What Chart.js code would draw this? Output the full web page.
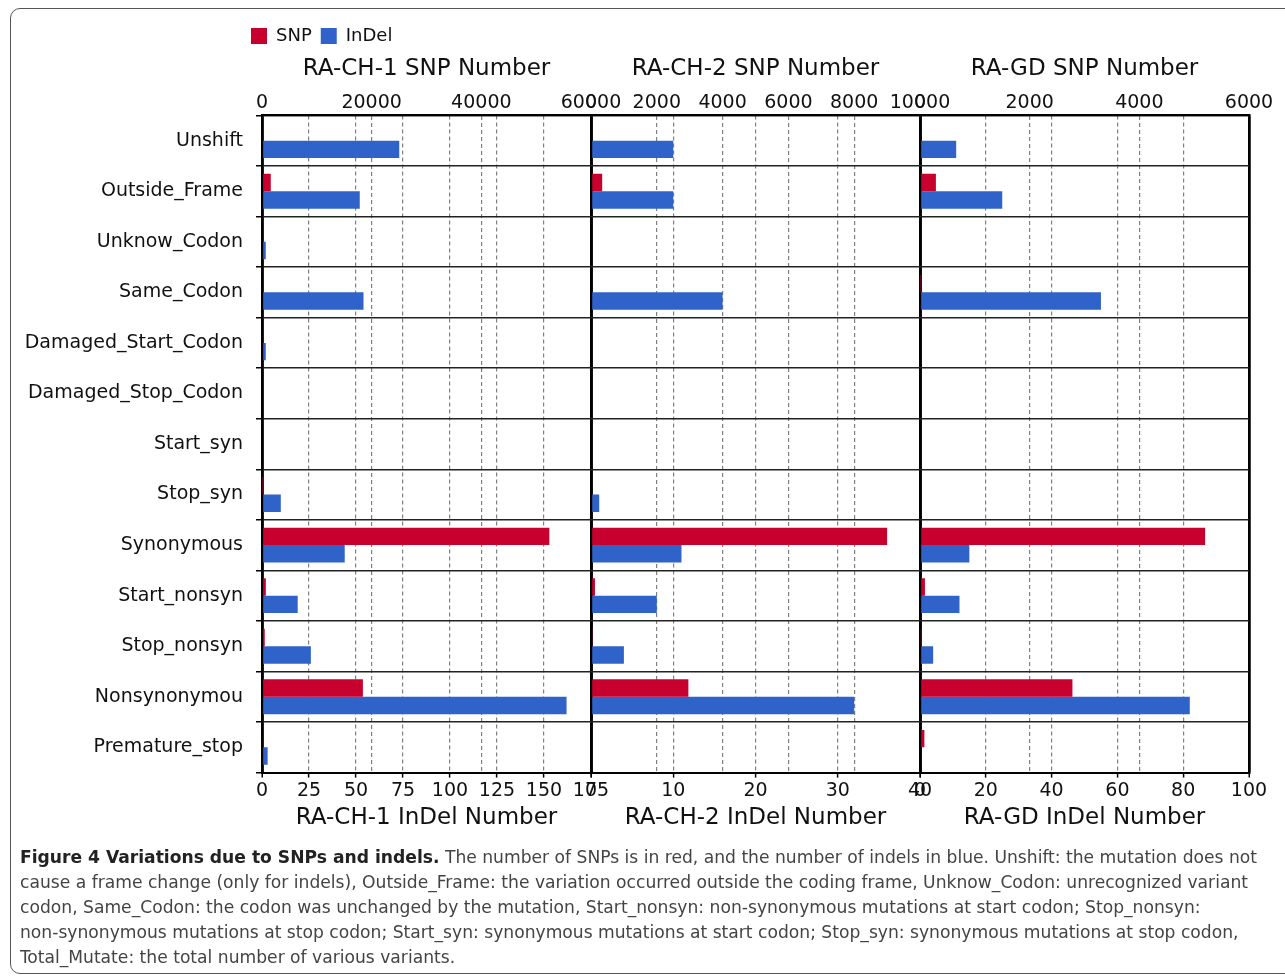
<!DOCTYPE html>
<html>
<head>
<meta charset="utf-8">
<script src="https://cdn.jsdelivr.net/npm/chart.js@4/dist/chart.umd.min.js"></script>
<style>
html, body { margin: 0; padding: 0; background: #fff; overflow: hidden; }
body { width: 1285px; height: 977px; position: relative; }
#frame { position: absolute; left: 10px; top: 8px; width: 1295px; height: 966px; border: 1.5px solid #555; border-radius: 10px; box-sizing: border-box; }
#wrap { position: absolute; left: 0; top: 0; width: 1285px; height: 846px; }
#caption { position: absolute; left: 20px; top: 844px; font-family: "Liberation Sans Narrow", "DejaVu Sans Condensed", sans-serif; font-size: 18.5px; line-height: 25px; color: #444; white-space: nowrap; transform-origin: 0 0; }
#caption b { color: #222; }
</style>
</head>
<body>
<div id="frame"></div>
<div id="wrap"><canvas id="chart"></canvas></div>
<div id="caption">
<div id="cap1"><b>Figure 4 Variations due to SNPs and indels.</b> The number of SNPs is in red, and the number of indels in blue. Unshift: the mutation does not</div>
<div>cause a frame change (only for indels), Outside_Frame: the variation occurred outside the coding frame, Unknow_Codon: unrecognized variant</div>
<div>codon, Same_Codon: the codon was unchanged by the mutation, Start_nonsyn: non-synonymous mutations at start codon; Stop_nonsyn:</div>
<div>non-synonymous mutations at stop codon; Start_syn: synonymous mutations at start codon; Stop_syn: synonymous mutations at stop codon,</div>
<div>Total_Mutate: the total number of various variants.</div>
</div>
<script>
"use strict";

// 変異の種類
const categories = [
    "Unshift", "Outside_Frame", "Unknow_Codon", "Same_Codon",
    "Damaged_Start_Codon", "Damaged_Stop_Codon", "Start_syn", "Stop_syn",
    "Synonymous", "Start_nonsyn", "Stop_nonsyn", "Nonsynonymou", "Premature_stop"
];

// RA-CH-1
const ch1Snp   = [0, 1600, 0, 0, 0, 0, 0, 100, 52400, 700, 500, 18400, 0];
const ch1Indel = [73, 52, 2, 54, 2, 0, 0, 10, 44, 19, 26, 162, 3];
// RA-CH-2
const ch2Snp   = [0, 340, 0, 0, 0, 0, 0, 0, 9000, 120, 30, 2960, 0];
const ch2Indel = [10, 10, 0, 16, 0, 0, 0, 1, 11, 8, 4, 32, 0];
// RA-GD
const gdSnp    = [0, 290, 0, 10, 0, 0, 0, 0, 5200, 90, 15, 2780, 80];
const gdIndel  = [11, 25, 0, 55, 0, 0, 0, 0, 15, 12, 4, 82, 0];

// 軸の目盛り (最大値, 間隔)
const snpMax    = [60000, 10000, 6000];
const snpStep   = [20000, 2000, 2000];
const indelMax  = [175, 40, 100];
const indelStep = [25, 10, 20];
const panelNames = ["RA-CH-1", "RA-CH-2", "RA-GD"];

const SNP_COLOR = "#c8002d";
const INDEL_COLOR = "#3063c9";
const FONT = "'DejaVu Sans', sans-serif";

// x軸 (上: SNP, 下: InDel)
function xAxis(pos, max, step, title) {
    const isEdge = ctx => ctx.tick && (ctx.tick.value === 0 || ctx.tick.value === max);
    const top = pos === "top";
    return {
        type: "linear",
        position: pos,
        stack: pos + "Stack",
        stackWeight: 1,
        min: 0,
        max: max,
        ticks: {
            stepSize: step,
            autoSkip: false,
            maxRotation: 0,
            padding: top ? 0 : 2,
            color: "#111",
            font: { family: FONT, size: 19 },
            callback: v => String(v)
        },
        grid: {
            color: ctx => isEdge(ctx) ? "#000" : "#808080",
            lineWidth: ctx => isEdge(ctx) ? 2.5 : 1.2,
            tickColor: "#000",
            tickWidth: 1.5,
            tickLength: top ? 1 : 5
        },
        border: {
            color: "#000",
            width: 2,
            dash: ctx => (ctx.tick && !isEdge(ctx)) ? [4, 3] : []
        },
        title: {
            display: true,
            text: title,
            color: "#111",
            font: { family: FONT, size: 23 },
            padding: top ? { top: 0, bottom: 9 } : { top: 0, bottom: 2 }
        }
    };
}

const snpData = [ch1Snp, ch2Snp, gdSnp];
const indelData = [ch1Indel, ch2Indel, gdIndel];

const datasets = [];
const scales = {};
for (let i = 0; i < 3; i++) {
    datasets.push({
        label: "SNP", data: snpData[i], xAxisID: "xTop" + i, stack: "snp",
        backgroundColor: SNP_COLOR, borderWidth: 0
    });
    datasets.push({
        label: "InDel", data: indelData[i], xAxisID: "xBot" + i, stack: "indel",
        backgroundColor: INDEL_COLOR, borderWidth: 0
    });
    scales["xBot" + i] = xAxis("bottom", indelMax[i], indelStep[i], panelNames[i] + " InDel Number");
}
// 上の軸は逆順に並ぶので逆から登録
for (let i = 2; i >= 0; i--) {
    scales["xTop" + i] = xAxis("top", snpMax[i], snpStep[i], panelNames[i] + " SNP Number");
}
scales.y = {
    type: "category",
    position: "left",
    offset: true,
    ticks: { color: "#111", font: { family: FONT, size: 19 }, padding: 13 },
    grid: { color: "#222", lineWidth: 1.5, tickColor: "#000", tickLength: 6, offset: true },
    border: { color: "#000", width: 2.5 },
    afterFit: s => { s.width = 262; }
};

// 凡例を少し左へ
const legendShift = {
    id: "legendShift",
    afterLayout(chart) {
        chart.legend.left -= 20;
        chart.legend.right -= 20;
    }
};

new Chart(document.getElementById("chart"), {
    type: "bar",
    data: { labels: categories, datasets: datasets },
    plugins: [legendShift],
    options: {
        indexAxis: "y",
        responsive: true,
        maintainAspectRatio: false,
        animation: false,
        barPercentage: 1,
        categoryPercentage: 0.69,
        layout: { padding: { top: 18, right: 36, bottom: 12, left: 0 } },
        scales: scales,
        plugins: {
            tooltip: { enabled: false },
            legend: {
                position: "top",
                align: "start",
                fullSize: false,
                labels: {
                    boxWidth: 16,
                    boxHeight: 16,
                    padding: 9,
                    color: "#111",
                    font: { family: FONT, size: 18 },
                    filter: item => item.datasetIndex < 2
                }
            }
        }
    }
});

// キャプションの横幅を合わせる
const cap = document.getElementById("caption");
const w = document.getElementById("cap1").getBoundingClientRect().width;
cap.style.transform = "scaleX(" + (1237 / w) + ")";
</script>
</body>
</html>
